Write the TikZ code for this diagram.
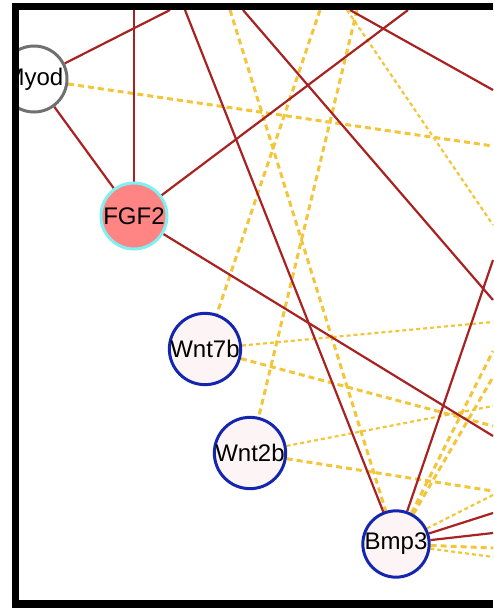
\documentclass[tikz,border=0pt]{standalone}
\usepackage{fontspec}
\setmainfont{Liberation Sans}
\definecolor{actred}{HTML}{A82222}
\definecolor{inhgold}{HTML}{F2C63A}
\definecolor{genblue}{HTML}{1426B0}
\definecolor{genfill}{HTML}{FDF5F5}
\definecolor{mgray}{HTML}{707070}
\definecolor{fsalmon}{HTML}{FF8484}
\definecolor{fcyan}{HTML}{80F0F2}
\pgfdeclarelayer{bg}
\pgfdeclarelayer{fg}
\pgfsetlayers{bg,main,fg}

\begin{document}
\begin{tikzpicture}[x=1pt,y=-1pt,font=\fontsize{24}{26}\selectfont]
    \tikzstyle{gene}=[circle,draw=genblue,fill=genfill,line width=3pt,minimum size=62pt,inner sep=0pt]
    \tikzstyle{act}=[draw=actred,line width=2.2pt]
    \tikzstyle{strong}=[draw=inhgold,line width=3pt,dash pattern=on 6pt off 4pt]
    \tikzstyle{weak}=[draw=inhgold,line width=2.2pt,dash pattern=on 4pt off 3pt]
    \useasboundingbox (0,0) rectangle (493,608);
    \clip (0,0) rectangle (493,608);
    \node [gene,draw=mgray,fill=white,minimum size=66pt] (myod) at (34,79) {Myod};
    \node [gene,draw=fcyan,fill=fsalmon,minimum size=66pt] (fgf2) at (134,216) {FGF2};
    \node [gene] (wnt7b) at (205,349) {Wnt7b};
    \node [gene] (wnt2b) at (250,453) {Wnt2b};
    \node [gene] (bmp3) at (396,544) {Bmp3};
    \coordinate (t1) at (170,10);
    \coordinate (t2) at (134,10);
    \coordinate (t3) at (185,10);
    \coordinate (t4) at (230,10);
    \coordinate (t5) at (243,10);
    \coordinate (t6) at (320,10);
    \coordinate (t7) at (347,10);
    \coordinate (t8) at (350,10);
    \coordinate (t9) at (357,10);
    \coordinate (t10) at (408,10);
    \coordinate (r1) at (493,90);
    \coordinate (r2) at (493,146);
    \coordinate (r3) at (493,225);
    \coordinate (r4) at (493,260);
    \coordinate (r5) at (493,300);
    \coordinate (r6) at (493,322);
    \coordinate (r7) at (493,351);
    \coordinate (r8) at (493,377);
    \coordinate (r9) at (493,406);
    \coordinate (r10) at (493,426);
    \coordinate (r11) at (493,436);
    \coordinate (r12) at (493,491);
    \coordinate (r13) at (493,495);
    \coordinate (r14) at (493,513);
    \coordinate (r15) at (493,533);
    \coordinate (r16) at (493,548);
    \coordinate (r17) at (493,557);
    \begin{pgfonlayer}{bg}
      \draw [strong] (myod) -- (r2);
      \draw [strong] (t4) -- (bmp3);
      \draw [strong] (t6) -- (wnt7b);
      \draw [strong] (t9) -- (wnt2b);
      \draw [weak] (t7) -- (r3);
      \draw [weak] (wnt7b) -- (r6);
      \draw [strong] (wnt7b) -- (r10);
      \draw [weak] (wnt2b) -- (r9);
      \draw [strong] (wnt2b) -- (r12);
      \draw [strong] (bmp3) -- (r7);
      \draw [strong] (bmp3) -- (r8);
      \draw [weak] (bmp3) -- (r13);
      \draw [strong] (bmp3) -- (r16);
      \draw [weak] (bmp3) -- (r17);
      \draw [act] (myod) -- (t1);
      \draw [act] (myod) -- (fgf2);
      \draw [act] (fgf2) -- (t2);
      \draw [act] (fgf2) -- (t10);
      \draw [act] (fgf2) -- (r11);
      \draw [act] (t3) -- (bmp3);
      \draw [act] (t5) -- (r5);
      \draw [act] (t8) -- (r1);
      \draw [act] (bmp3) -- (r4);
      \draw [act] (bmp3) -- (r14);
      \draw [act] (bmp3) -- (r15);
    \end{pgfonlayer}
    \begin{pgfonlayer}{fg}
      \fill [white] (0,0) rectangle (12,608);
      \fill [white] (0,0) rectangle (493,3);
      \fill [black] (12,3) rectangle (493,10);
      \fill [black] (12,3) rectangle (19,608);
      \fill [black] (12,600) rectangle (493,608);
    \end{pgfonlayer}
  \end{tikzpicture}
\end{document}
